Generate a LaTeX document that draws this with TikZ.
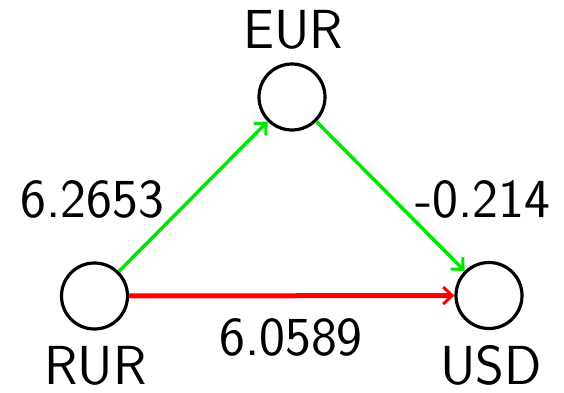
\documentclass[tikz,border=0pt]{standalone}
\usetikzlibrary{arrows.meta}
\begin{document}
\begin{tikzpicture}[x=1pt,y=1pt,
  cur/.style={circle,draw=black,line width=3.2pt,minimum size=66pt,inner sep=0pt},
  lbl/.style={font=\sffamily\fontsize{55}{60}\selectfont,inner sep=0pt,anchor=base},
  tip/.style={-{Straight Barb[length=9pt,width=17pt,line width=3pt]}},
  gline/.style={tip,draw={rgb,255:red,0;green,230;blue,0},line width=3.5pt},
  rline/.style={tip,draw={rgb,255:red,255;green,0;blue,0},line width=5pt}]
\useasboundingbox (0,0) rectangle (564,392);
\node[cur] (eur) at (292,295) {};
\node[cur] (rur) at (94.5,96) {};
\node[cur] (usd) at (489,96.5) {};
\node[lbl] (teur) at (293,344) {EUR};
\node[lbl] (trur) at (95.5,8) {RUR};
\node[lbl] (tusd) at (491,8) {USD};
\node[lbl] (t1) at (92.5,175) {6.2653};
\node[lbl] (t2) at (483,175) {-0.214};
\node[lbl] (t3) at (291,37) {6.0589};
\draw[gline] (rur) -- (eur);
\draw[gline] (eur) -- (usd);
\draw[rline] (rur) -- (usd);
\end{tikzpicture}
\end{document}
